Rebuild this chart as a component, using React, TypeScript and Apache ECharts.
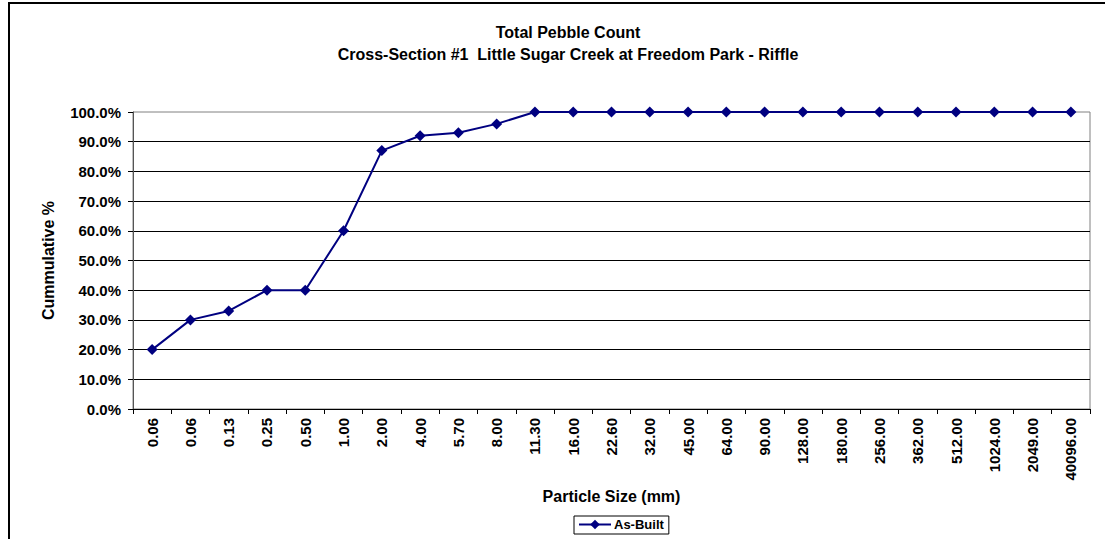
import React, { useEffect, useRef } from "react";
import * as echarts from "echarts";

const titleLines = [
  "Total Pebble Count",
  "Cross-Section #1  Little Sugar Creek at Freedom Park - Riffle",
];
const particleSizes = [
  "0.06", "0.06", "0.13", "0.25", "0.50", "1.00", "2.00", "4.00", "5.70", "8.00",
  "11.30", "16.00", "22.60", "32.00", "45.00", "64.00", "90.00", "128.00", "180.00",
  "256.00", "362.00", "512.00", "1024.00", "2049.00", "40096.00",
];
const asBuilt = [
  20, 30, 33, 40, 40, 60, 87, 92, 93, 96,
  100, 100, 100, 100, 100, 100, 100, 100, 100, 100, 100, 100, 100, 100, 100,
];
const seriesName = "As-Built";
const xAxisName = "Particle Size (mm)";
const yAxisName = "Cummulative %";

const FONT = "'Liberation Sans', Arial, Helvetica, sans-serif";

export default function App() {
  const ref = useRef<HTMLDivElement>(null);
  useEffect(() => {
    if (!ref.current) return;
    const chart = echarts.init(ref.current, null, { renderer: "svg" });
    chart.setOption({
      animation: false,
      backgroundColor: "#fff",
      textStyle: { fontFamily: FONT },
      title: {
        text: titleLines.join("\n"),
        left: 563,
        top: 16,
        textAlign: "center",
        textStyle: { fontFamily: FONT, fontSize: 16, fontWeight: "bold", color: "#000", lineHeight: 22 },
      },
      legend: {
        data: [seriesName],
        left: 574,
        top: 516,
        borderColor: "#000",
        borderWidth: 1,
        borderRadius: 0,
        padding: [2, 5, 3, 4],
        itemWidth: 32,
        itemHeight: 12,
        itemGap: 4,
        textStyle: { fontFamily: FONT, fontSize: 13, fontWeight: "bold", color: "#000", padding: [0, 0, 0, -2] },
      },
      grid: {
        left: 133,
        top: 112,
        right: 15,
        bottom: 130,
        show: true,
        borderColor: "#808080",
        borderWidth: 1,
        backgroundColor: "transparent",
        containLabel: false,
      },
      xAxis: {
        type: "category",
        data: particleSizes,
        boundaryGap: true,
        name: xAxisName,
        nameLocation: "middle",
        nameGap: 75,
        nameTextStyle: { fontFamily: FONT, fontSize: 16, fontWeight: "bold", color: "#000" },
        axisLine: { show: true, lineStyle: { color: "#000", width: 1 } },
        axisTick: { show: true, length: 5, lineStyle: { color: "#000" } },
        axisLabel: {
          interval: 0,
          rotate: 90,
          margin: 9,
          fontFamily: FONT,
          fontSize: 15,
          fontWeight: "bold",
          color: "#000",
        },
        splitLine: { show: false },
      },
      yAxis: {
        type: "value",
        min: 0,
        max: 100,
        interval: 10,
        name: yAxisName,
        nameLocation: "middle",
        nameRotate: 90,
        nameGap: 77,
        nameTextStyle: { fontFamily: FONT, fontSize: 16, fontWeight: "bold", color: "#000" },
        axisLine: { show: true, lineStyle: { color: "#555", width: 1 } },
        axisTick: { show: true, length: 5, lineStyle: { color: "#000" } },
        axisLabel: {
          margin: 12,
          fontFamily: FONT,
          fontSize: 15,
          fontWeight: "bold",
          color: "#000",
          formatter: (v: number) => `${v.toFixed(1)}%`,
        },
        splitLine: { show: true, showMinLine: false, showMaxLine: false, lineStyle: { color: "#000", width: 1 } },
      },
      series: [
        {
          name: seriesName,
          type: "line",
          data: asBuilt,
          color: "#000080",
          symbol: "diamond",
          symbolSize: 11,
          lineStyle: { color: "#000080", width: 2 },
          itemStyle: { color: "#000080" },
        },
      ],
    });
    return () => chart.dispose();
  }, []);

  return (
    <div style={{ position: "fixed", left: 0, top: 0, width: 1105, height: 539, overflow: "hidden", background: "#fff" }}>
      <div ref={ref} style={{ position: "absolute", left: 0, top: 0, width: 1105, height: 539 }} />
      <div
        style={{
          position: "absolute",
          left: 8,
          top: 2,
          width: 1200,
          height: 700,
          border: "2px solid #000",
          pointerEvents: "none",
        }}
      />
    </div>
  );
}
